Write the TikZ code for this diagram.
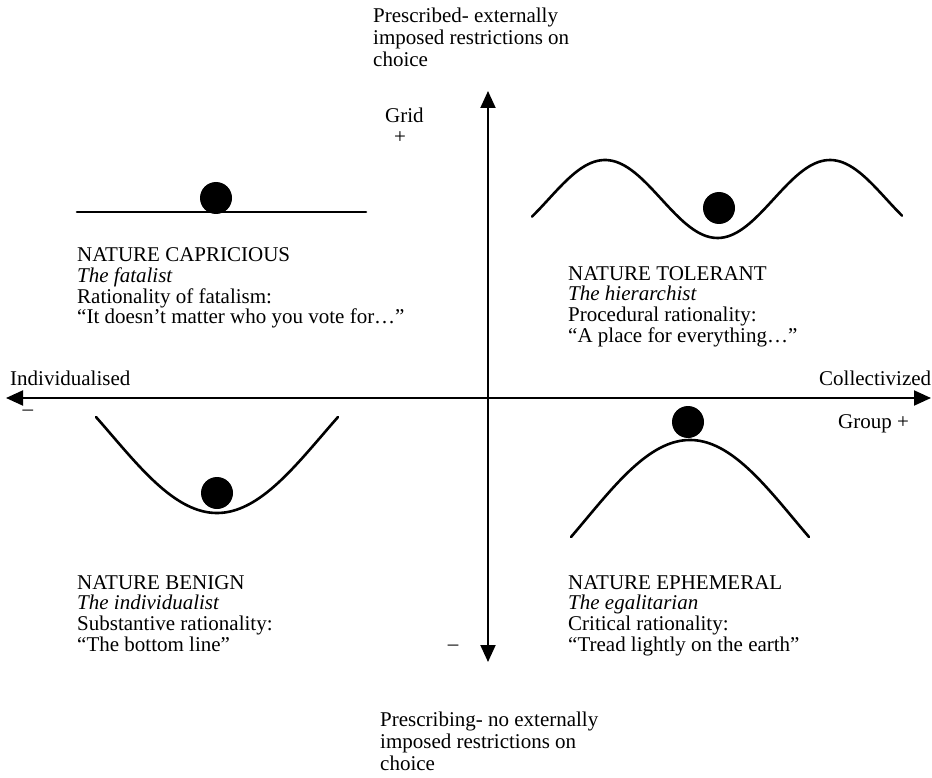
\documentclass[tikz,border=0pt]{standalone}
\usepackage{fontspec}
\setmainfont{Liberation Serif}
\usetikzlibrary{arrows.meta}
\begin{document}
\begin{tikzpicture}[x=1pt,y=-1pt,
  axis/.style={line width=2pt,
    {Triangle[length=17pt,width=15pt]}-{Triangle[length=17pt,width=15pt]}},
  curve/.style={line width=2.6pt, line cap=round},
  ball/.style={fill=black},
  lbl/.style={inner sep=0pt, font=\fontsize{21}{22}\selectfont},
  multi/.style={inner sep=0pt, anchor=north west, align=left,
    font=\fontsize{21}{22}\selectfont},
  block/.style={inner sep=0pt, anchor=north west, align=left,
    font=\fontsize{21}{20.7}\selectfont},
]
\useasboundingbox (0,0) rectangle (932,778);

% axes
\coordinate (ytop) at (488,91);
\coordinate (ybot) at (488,662);
\coordinate (xl) at (6,398);
\coordinate (xr) at (931,398);
\draw[axis] (xl) -- (xr);
\draw[axis] (ybot) -- (ytop);

% axis labels
\node[multi] (gridtxt) at (373,8) {Prescribed- externally\\imposed restrictions on\\choice};
\node[multi] (nogridtxt) at (380,712) {Prescribing- no externally\\imposed restrictions on\\choice};
\node[lbl, anchor=base west] (grid) at (385,123) {Grid};
\node[lbl] (gridplus) at (400,138) {+};
\node[lbl, anchor=base west] (indiv) at (10,385) {Individualised};
\node[lbl, anchor=base west] (coll) at (819,385) {Collectivized};
\node[lbl] (groupminus) at (28,413) {–};
\node[lbl, anchor=base west] (group) at (838,428) {Group +};
\node[lbl] (gridminus) at (453,648) {–};

% nature capricious: flat line
\draw[curve] (77,212) -- (366,212);
\fill[ball] (216,198) circle[radius=16];

% nature tolerant: wave (period 225, 1.6 degrees per unit)
\draw[curve, domain=532:902, samples=120, smooth]
  plot (\x, {199 - 39*cos(1.6*(\x-605))});
\fill[ball] (719,208) circle[radius=16];

% nature benign: valley
\draw[curve, domain=-121:121, samples=80, smooth]
  plot ({217+\x}, {513 - 96*(1-cos(deg(1.8*\x/121)))/(1-cos(deg(1.8)))});
\fill[ball] (217,493) circle[radius=16];

% nature ephemeral: hump
\draw[curve, domain=-119:119, samples=80, smooth]
  plot ({690+\x}, {440 + 97*(1-cos(deg(1.8*\x/119)))/(1-cos(deg(1.8)))});
\fill[ball] (688,422) circle[radius=16];

% quadrant texts
\node[block] (capricious) at (77,247.5) {NATURE CAPRICIOUS\\\textit{The fatalist}\\Rationality of fatalism:\\“It doesn’t matter who you vote for…”};
\node[block] (tolerant) at (568,266) {NATURE TOLERANT\\\textit{The hierarchist}\\Procedural rationality:\\“A place for everything…”};
\node[block] (benign) at (77,575) {NATURE BENIGN\\\textit{The individualist}\\Substantive rationality:\\“The bottom line”};
\node[block] (ephemeral) at (568,575) {NATURE EPHEMERAL\\\textit{The egalitarian}\\Critical rationality:\\“Tread lightly on the earth”};
\end{tikzpicture}
\end{document}
